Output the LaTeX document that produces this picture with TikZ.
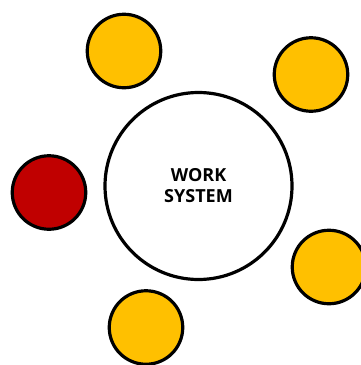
\documentclass[tikz,border=0pt]{standalone}
\usepackage{fontspec}
\setmainfont{Open Sans}
\definecolor{wsgold}{RGB}{255,192,0}
\definecolor{wsred}{RGB}{192,0,0}

\begin{document}
\begin{tikzpicture}[x=1pt, y=-1pt, line width=3.2pt,
    hub/.style={draw=black, circle, fill=white, minimum size=187pt, inner sep=0pt,
                font=\fontsize{18}{21}\selectfont\bfseries, align=center},
    sat/.style={draw=black, circle, fill=wsgold, minimum size=73.5pt, inner sep=0pt}]
    % fixed frame of the reference
    \useasboundingbox (0,0) rectangle (360,365);
    % central circle
    \node[hub] (work) at (198.5,186) {WORK\\SYSTEM};
    % surrounding circles
    \node[sat] (top) at (124,51) {};
    \node[sat] (topright) at (311,74.5) {};
    \node[sat, fill=wsred] (left) at (49,192.5) {};
    \node[sat] (botright) at (329,267) {};
    \node[sat] (bottom) at (146,327.5) {};
\end{tikzpicture}
\end{document}
